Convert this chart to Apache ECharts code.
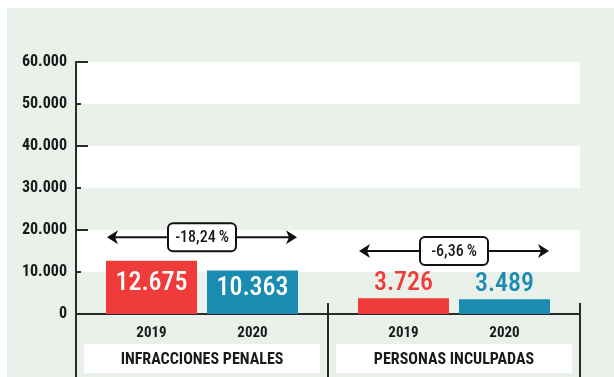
<!DOCTYPE html>
<html>
<head>
<meta charset="utf-8">
<script src="https://cdn.jsdelivr.net/npm/echarts@6/dist/echarts.min.js"></script>
<style>
  html, body { margin: 0; padding: 0; background: #ffffff; }
  #chart { position: absolute; left: 7px; top: 8px; width: 607px; height: 369px; }
</style>
</head>
<body>
<div id="chart"></div>
<script>
// Delitos conocidos: infracciones penales y personas inculpadas, 2019 vs 2020
const categories = ['INFRACCIONES PENALES', 'PERSONAS INCULPADAS'];
const years = ['2019', '2020'];
const values2019 = [12675, 3726];
const values2020 = [10363, 3489];
const yTicks = [0, 10000, 20000, 30000, 40000, 50000, 60000];

const RED = '#ef3b39';
const BLUE = '#1a8bb1';
const INK = '#1a1a1a';
const AXIS = '#2a2a2a';
const BG = '#e9f1ea';
const FONT = '"Roboto Condensed", "DejaVu Sans Condensed", sans-serif';
const BAR_W = 91;
const BAR_GAP = 10;
// value labels sit inside the tall bars and above the short ones
const labelInside = [true, false];
// height (in axis units) at which each change arrow is drawn
const arrowLevel = [18300, 15000];

function fmt(v) {
  return String(Math.round(v)).replace(/\B(?=(\d{3})+(?!\d))/g, '.');
}
function pct(a, b) {
  return ((b - a) / a * 100).toFixed(2).replace('.', ',') + '\u2009%';
}

function barData(vals, color) {
  return vals.map((v, i) => ({
    value: v,
    label: labelInside[i]
      ? { position: 'inside', color: '#ffffff', offset: [0, -4] }
      : { position: 'top', color: color, distance: 2 }
  }));
}

const arrowData = categories.map((c, i) => [i, arrowLevel[i], pct(values2019[i], values2020[i])]);

function renderArrow(params, api) {
  const p = api.coord([api.value(0), api.value(1)]);
  const cx = p[0], cy = p[1];
  const half = BAR_W + BAR_GAP / 2 - 1;
  const x0 = cx - half, x1 = cx + half;
  const head = 11, notch = 8, hh = 7;
  const text = arrowData[params.dataIndex][2];
  return {
    type: 'group',
    children: [
      { type: 'line', shape: { x1: x0 + notch, y1: cy, x2: x1 - notch, y2: cy },
        style: { stroke: '#111', lineWidth: 2 } },
      { type: 'polygon', shape: { points: [[x0, cy], [x0 + head, cy - hh], [x0 + notch, cy], [x0 + head, cy + hh]] },
        style: { fill: '#111' } },
      { type: 'polygon', shape: { points: [[x1, cy], [x1 - head, cy - hh], [x1 - notch, cy], [x1 - head, cy + hh]] },
        style: { fill: '#111' } },
      { type: 'rect', shape: { x: cx - 34, y: cy - 14, width: 68, height: 28, r: 5 },
        style: { fill: '#ffffff', stroke: '#111', lineWidth: 2 } },
      { type: 'text', x: cx, y: cy + 1,
        style: { text: text, fill: INK, font: '500 16px ' + FONT, align: 'center', verticalAlign: 'middle' } }
    ]
  };
}

const chart = echarts.init(document.getElementById('chart'), null, { renderer: 'canvas' });

chart.setOption({
  backgroundColor: BG,
  animation: false,
  grid: { left: 69, right: 34, top: 54, bottom: 63, containLabel: false },
  xAxis: [
    {
      type: 'category',
      data: categories,
      position: 'bottom',
      axisLine: { show: true, lineStyle: { color: AXIS, width: 2 } },
      axisTick: { show: true, inside: false, length: 63, lineStyle: { color: AXIS, width: 2 } },
      axisLabel: {
        interval: 0, margin: 30,
        color: INK, fontFamily: FONT, fontWeight: 'bold', fontSize: 16,
        backgroundColor: '#ffffff', width: 236, height: 27, lineHeight: 27, padding: [2, 0, 0, 0], align: 'center'
      },
      splitLine: { show: false }
    },
    {
      type: 'category',
      data: categories,
      position: 'bottom',
      offset: 0,
      axisLine: { show: false },
      axisTick: { show: true, inside: true, length: 11, lineStyle: { color: AXIS, width: 2 } },
      axisLabel: { show: false },
      splitLine: { show: false }
    }
  ],
  yAxis: [
    {
      type: 'value',
      position: 'left',
      min: yTicks[0], max: yTicks[yTicks.length - 1], interval: yTicks[1] - yTicks[0],
      axisLine: { show: true, lineStyle: { color: AXIS, width: 2 } },
      axisTick: { show: true, inside: true, length: 5, lineStyle: { color: AXIS, width: 2 } },
      axisLabel: {
        margin: 9, color: INK, fontFamily: FONT, fontWeight: 'bold', fontSize: 16,
        formatter: v => fmt(v)
      },
      splitLine: { show: false },
      splitArea: { show: true, areaStyle: { color: ['rgba(0,0,0,0)', '#ffffff'] } }
    },
    {
      type: 'value',
      position: 'left',
      offset: 0,
      min: yTicks[0], max: yTicks[yTicks.length - 1], interval: (yTicks[1] - yTicks[0]) * 2,
      axisLine: { show: false },
      axisTick: { show: true, inside: true, length: 12, lineStyle: { color: AXIS, width: 2 } },
      axisLabel: { show: false },
      splitLine: { show: false }
    }
  ],
  series: [
    {
      name: years[0], type: 'bar', xAxisIndex: 0, yAxisIndex: 0,
      barWidth: BAR_W, barGap: (BAR_GAP / BAR_W * 100).toFixed(1) + '%',
      itemStyle: { color: RED },
      label: { show: true, fontFamily: FONT, fontWeight: 500, fontSize: 26, formatter: p => fmt(p.value) },
      data: barData(values2019, RED),
      z: 3
    },
    {
      name: years[1], type: 'bar', xAxisIndex: 0, yAxisIndex: 0,
      barWidth: BAR_W,
      itemStyle: { color: BLUE },
      label: { show: true, fontFamily: FONT, fontWeight: 500, fontSize: 26, formatter: p => fmt(p.value) },
      data: barData(values2020, BLUE),
      z: 3
    },
    // transparent twins carrying the year captions under each bar
    {
      name: years[0], type: 'bar', xAxisIndex: 1, yAxisIndex: 0, silent: true,
      barWidth: BAR_W, barGap: (BAR_GAP / BAR_W * 100).toFixed(1) + '%',
      itemStyle: { color: 'rgba(0,0,0,0)' },
      label: { show: true, position: 'bottom', distance: 12, color: INK, fontFamily: FONT, fontWeight: 'bold', fontSize: 15, formatter: p => p.seriesName },
      data: values2019
    },
    {
      name: years[1], type: 'bar', xAxisIndex: 1, yAxisIndex: 0, silent: true,
      barWidth: BAR_W,
      itemStyle: { color: 'rgba(0,0,0,0)' },
      label: { show: true, position: 'bottom', distance: 12, color: INK, fontFamily: FONT, fontWeight: 'bold', fontSize: 15, formatter: p => p.seriesName },
      data: values2020
    },
    {
      type: 'custom', xAxisIndex: 0, yAxisIndex: 0, silent: true, clip: false, z: 10,
      renderItem: renderArrow,
      data: arrowData.map(d => [d[0], d[1]])
    }
  ]
});
</script>
</body>
</html>
